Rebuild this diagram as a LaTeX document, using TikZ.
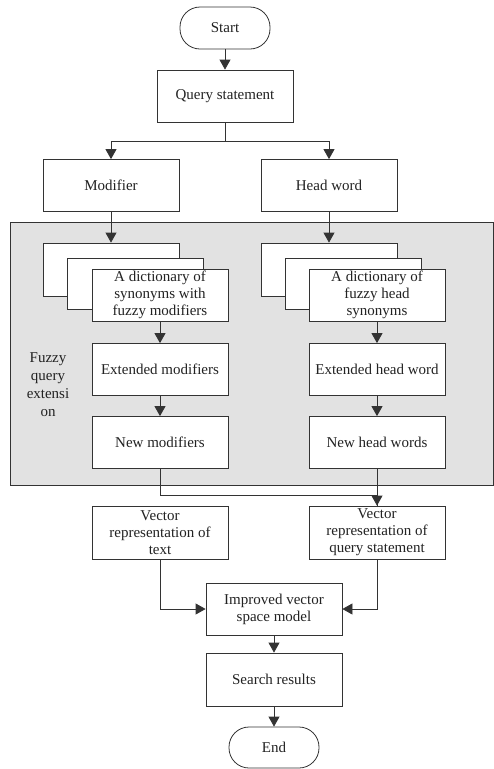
\documentclass[tikz,border=0pt]{standalone}
\usepackage{fontspec}
\setmainfont{Liberation Serif}
\usetikzlibrary{arrows.meta,positioning,calc}
\definecolor{linegray}{HTML}{333333}
\definecolor{bggray}{HTML}{E2E2E2}
\definecolor{textgray}{HTML}{222222}

\begin{document}
\begin{tikzpicture}[x=1pt,y=-1pt,
font=\fontsize{15}{17}\selectfont,
block/.style={rectangle,draw=linegray,fill=white,
minimum width=136pt,minimum height=52pt,
align=center,inner sep=1pt,text=textgray,line width=0.8pt},
term/.style={rectangle,rounded corners=20pt,draw=linegray,fill=white,
minimum width=90pt,minimum height=42pt,text=textgray,line width=0.8pt},
arr/.style={-{Triangle[length=10pt,width=11pt]}},
wire/.style={draw=linegray,line width=0.8pt},
]
\useasboundingbox (0,0) rectangle (494,769);
% fuzzy query extension area
\draw[wire,fill=bggray] (10,222) rectangle (493,485);
\node (fqe) [align=center,text=textgray,font=\fontsize{15}{18}\selectfont] at (48,385) {Fuzzy\\query\\extensi\\on};

\node (start) [term] at (225,28) {Start};
\node (query) [block] at (225,96) {Query statement};
\node (modifier) [block] at (111,185.5) {Modifier};
\node (head) [block] at (329,185.5) {Head word};

% stacked dictionaries
\node (dictLa) [block,minimum height=53pt] at (111,269.5) {};
\node (dictLb) [block,minimum height=51pt] at (135,283.5) {};
\node (dictL) [block] at (160,295) {A dictionary of\\synonyms with\\fuzzy modifiers};
\node (dictRa) [block,minimum height=53pt] at (329,269.5) {};
\node (dictRb) [block,minimum height=51pt] at (353,283.5) {};
\node (dictR) [block] at (377,295) {A dictionary of\\fuzzy head\\synonyms};

\node (extL) [block] at (160,369.5) {Extended modifiers};
\node (extR) [block] at (377,369.5) {Extended head word};
\node (newL) [block] at (160,442.5) {New modifiers};
\node (newR) [block] at (377,442.5) {New head words};

\node (vecT) [block,minimum height=53pt] at (160,532.5) {Vector\\representation of\\text};
\node (vecQ) [block,minimum height=53pt] at (377,532.5) {Vector\\representation of\\query statement};
\node (impr) [block] at (274,609) {Improved vector\\space model};
\node (search) [block,minimum height=53pt] at (274,679.5) {Search results};
\node (end) [term,minimum height=41pt] at (274,747.5) {End};

\draw[wire,arr] (start) -- (query);
\draw[wire,arr] (query.south) -- ++(0,19) -| (modifier.north);
\draw[wire,arr] (query.south) -- ++(0,19) -| (head.north);
\draw[wire,arr] (modifier) -- (dictLa);
\draw[wire,arr] (head) -- (dictRa);
\draw[wire,arr] (dictL) -- (extL);
\draw[wire,arr] (extL) -- (newL);
\draw[wire,arr] (dictR) -- (extR);
\draw[wire,arr] (extR) -- (newR);
\draw[wire] (newL.south) -- ++(0,26) -| (vecQ.north);
\draw[wire,arr] (newR) -- (vecQ);
\draw[wire,arr] (vecT.south) |- (impr.west);
\draw[wire,arr] (vecQ.south) |- (impr.east);
\draw[wire,arr] (impr) -- (search);
\draw[wire,arr] (search) -- (end);
\end{tikzpicture}
\end{document}
